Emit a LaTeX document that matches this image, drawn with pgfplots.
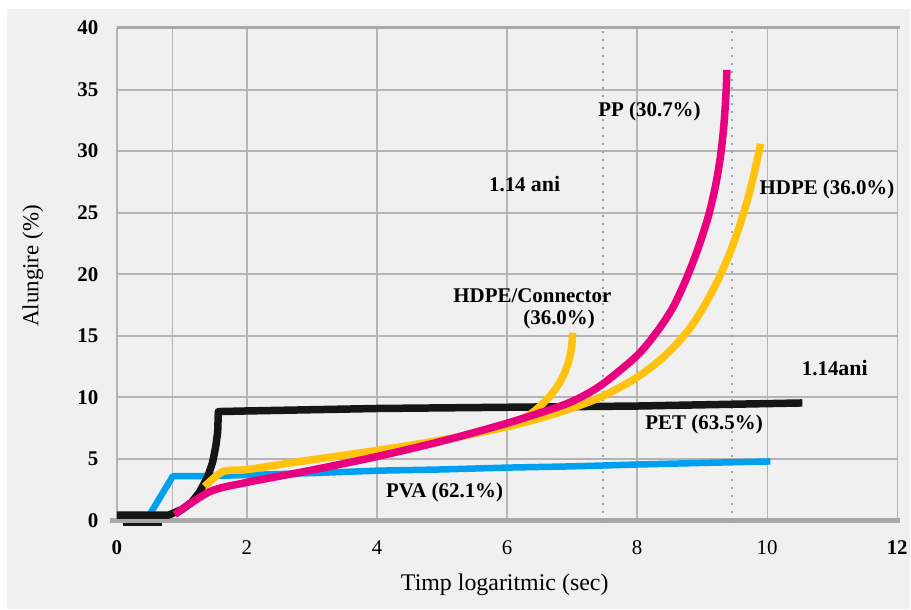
\documentclass[border=0pt]{standalone}
\usepackage{fontspec}
\setmainfont{Liberation Serif}
\usepackage{pgfplots}
\pgfplotsset{compat=1.18}
\definecolor{bg}{HTML}{F0F0F0}
\definecolor{gridc}{HTML}{B4B4B4}
\definecolor{axc}{HTML}{A8A8A8}
\definecolor{pvab}{HTML}{00A0F0}
\definecolor{ppm}{HTML}{E8007F}
\definecolor{hdpeo}{HTML}{FFC20E}
\definecolor{petk}{HTML}{161616}
\definecolor{dotc}{HTML}{8FA6BA}
\begin{document}
\begin{tikzpicture}
\fill[white] (-117bp,-89bp) rectangle (794bp,521bp);
\fill[bg] (-110bp,-89bp) rectangle (794bp,512bp);
\begin{axis}[
  at={(0,0)}, anchor=south west,
  scale only axis, width=781bp, height=493bp,
  xmin=0, xmax=12, ymin=0, ymax=40,
  clip=false,
  axis line style={draw=none},
  major tick length=0pt,
  xtick={0,2,...,12}, ytick={0,5,...,40},
  xticklabels={\textbf{0},2,4,6,8,10,\textbf{12}},
  extra x ticks={0.86}, extra x tick labels={},
  extra x tick style={grid=major},
  /pgf/number format/assume math mode=true,
  yticklabel style={font=\bfseries\fontsize{21}{21}\selectfont, anchor=east, xshift=-15bp},
  xticklabel style={font=\fontsize{21}{21}\selectfont, anchor=center, yshift=-27bp},
  grid=major,
  x grid style={gridc, line width=1.3bp},
  y grid style={gridc, line width=2bp},
  xlabel={Timp logaritmic (sec)},
  ylabel={Alungire (\%)},
  xlabel style={at={(axis description cs:0.497,-0.13)}, anchor=center, font=\fontsize{24}{24}\selectfont},
  ylabel style={at={(axis description cs:-0.1075,0.517)}, anchor=center, font=\fontsize{23}{23}\selectfont},
]
% frame lines
\addplot[axc, line width=3bp, forget plot] coordinates {(0,40) (12.05,40)};
\addplot[axc, line width=4.5bp, forget plot] coordinates {(-0.1,0) (12.05,0)};
% dotted markers
\addplot[dotc, line width=1.8bp, dash pattern=on 2bp off 6bp, forget plot] coordinates {(7.48,0) (7.48,40)};
\addplot[dotc, line width=1.8bp, dash pattern=on 2bp off 6bp, forget plot] coordinates {(9.46,0) (9.46,40)};
% PVA
\addplot[pvab, line width=6.5bp, line join=round] coordinates {
(0,0.45) (0.5,0.45) (0.86,3.6) (1.4,3.6) (2,3.7) (3,3.85) (4,4.05) (5,4.15) (6,4.3) (7,4.4) (8,4.55) (9,4.68) (10.05,4.8)};
% PET
\addplot[petk, line width=3bp, forget plot] coordinates {(0.1,-0.3) (0.7,-0.3)};
\addplot[petk, line width=7.5bp, line join=round] coordinates {
(0,0.45) (0.8,0.45) (1.0,0.9) (1.15,1.5) (1.27,2.3) (1.4,3.6) (1.47,4.7) (1.52,6) (1.55,7.2) (1.56,8.85) (2,8.9) (4,9.1) (6,9.2) (8,9.3) (10.54,9.55)};
% HDPE/Connector
\addplot[hdpeo, line width=7.5bp, smooth, tension=0.5] coordinates {
(6.1,7.8) (6.35,8.6) (6.55,9.5) (6.72,10.5) (6.85,11.6) (6.94,12.8) (6.99,14) (7.01,15.25)};
% HDPE
\addplot[hdpeo, line width=7.5bp, smooth, tension=0.5] coordinates {
(1.35,2.76) (1.63,3.98) (2.0,4.14) (2.81,4.79) (4.0,5.7) (5.0,6.55) (5.9,7.5) (6.4,8.15) (6.9,8.95) (7.42,9.98) (7.93,11.4) (8.3,12.8) (8.6,14.3) (8.85,15.9) (9.05,17.6) (9.25,19.6) (9.43,21.8) (9.58,24.0) (9.7,26.1) (9.8,28.2) (9.9,30.6)};
% PP
\addplot[ppm, line width=7.5bp, smooth, tension=0.5] coordinates {
(0.89,0.49) (1.43,2.35) (2.0,3.1) (3.0,4.1) (4.0,5.2) (5.0,6.45) (5.9,7.75) (6.45,8.65) (6.9,9.45) (7.2,10.2) (7.5,11.2) (8.0,13.4) (8.3,15.3) (8.55,17.3) (8.77,19.8) (8.95,22.3) (9.1,24.8) (9.21,27.3) (9.29,29.9) (9.34,32.5) (9.37,35) (9.38,36.6)};
% annotations
\begin{scope}[every node/.style={font=\bfseries\fontsize{21}{21}\selectfont, inner sep=0pt}]
\node at (axis cs:8.19,33.2) {PP (30.7\%)};
\node at (axis cs:6.27,27.3) {1.14 {\fontsize{22}{22}\selectfont ani}};
\node at (axis cs:10.92,26.9) {HDPE (36.0\%)};
\node at (axis cs:6.39,18.3) {HDPE/Connector};
\node at (axis cs:6.8,16.3) {(36.0\%)};
\node at (axis cs:11.04,12.4) {1.14{\fontsize{22}{22}\selectfont ani}};
\node at (axis cs:9.03,7.8) {PET (63.5\%)};
\node at (axis cs:5.04,2.3) {PVA (62.1\%)};
\end{scope}
\end{axis}
\end{tikzpicture}
\end{document}
